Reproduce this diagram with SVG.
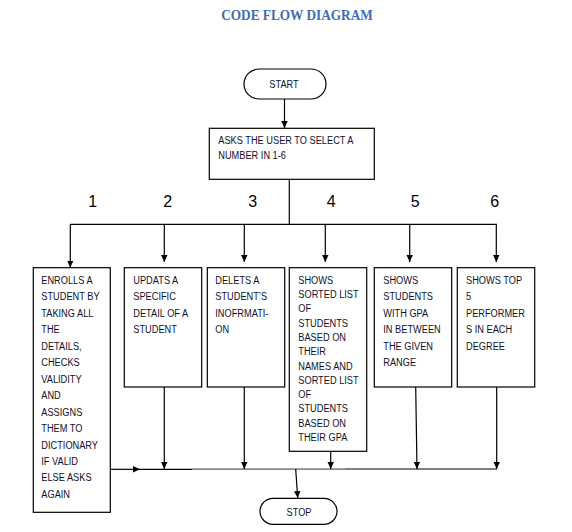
<svg xmlns="http://www.w3.org/2000/svg" width="572" height="532" viewBox="0 0 572 532">
<defs>
<marker id="ah" markerUnits="userSpaceOnUse" markerWidth="8" markerHeight="8" viewBox="0 0 8 8" refX="7" refY="4" orient="auto">
<path d="M0,0.8 L7,4 L0,7.2 Z" fill="#000"/>
</marker>
<style>
.box{fill:#fff;stroke:#000;stroke-width:1.2}
.t{font-family:"Liberation Sans",Arial,sans-serif;font-size:11px;fill:#10102a}
.num{font-family:"Liberation Sans",Arial,sans-serif;font-size:16px;fill:#000}
.ln{fill:none;stroke:#000;stroke-width:1.2}
.gr{fill:none;stroke:#8a8a8a;stroke-width:1.8}
.title{font-family:"Liberation Serif","Times New Roman",serif;font-size:15px;font-weight:bold;fill:#3f6db0}
</style>
</defs>
<rect width="572" height="532" fill="#fff"/>
<text class="title" text-anchor="middle" transform="translate(297,20) scale(0.885,1)" x="0" y="0">CODE FLOW DIAGRAM</text>

<g id="connectors">
<path class="ln" d="M284.5,99 V128" marker-end="url(#ah)"/>
<path class="ln" d="M289.3,179.3 V224.3"/>
<path class="ln" d="M70.3,224.3 H497"/>
<path class="ln" d="M70.3,224.3 V267.5" marker-end="url(#ah)"/>
<path class="ln" d="M164.3,224.3 V262" marker-end="url(#ah)"/>
<path class="ln" d="M244.3,224.3 V262" marker-end="url(#ah)"/>
<path class="ln" d="M325.3,224.3 V262" marker-end="url(#ah)"/>
<path class="ln" d="M409.7,224.3 V262" marker-end="url(#ah)"/>
<path class="ln" d="M496.3,224.3 V262" marker-end="url(#ah)"/>
<path class="ln" d="M110.3,469.3 H140" marker-end="url(#ah)"/>
<path class="ln" d="M140,469.3 H192"/>
<path class="gr" d="M192,469.2 H345"/>
<path class="ln" d="M345,469 H497"/>
<path class="ln" d="M164.3,387 V469" marker-end="url(#ah)"/>
<path class="ln" d="M244.3,387 V469" marker-end="url(#ah)"/>
<path class="ln" d="M330.7,451.3 V469" marker-end="url(#ah)"/>
<path class="ln" d="M415.7,387 L417,469" marker-end="url(#ah)"/>
<path class="ln" d="M496.7,387 V469" marker-end="url(#ah)"/>
<path class="ln" d="M295.7,469 L297.7,498" marker-end="url(#ah)"/>
</g>

<g id="labels">
<text class="num" x="92.7" y="207" text-anchor="middle">1</text>
<text class="num" x="167.7" y="207" text-anchor="middle">2</text>
<text class="num" x="252.7" y="207" text-anchor="middle">3</text>
<text class="num" x="331.3" y="207" text-anchor="middle">4</text>
<text class="num" x="415.3" y="207" text-anchor="middle">5</text>
<text class="num" x="494.7" y="207" text-anchor="middle">6</text>
</g>

<g id="start">
<rect class="box" x="244" y="69" width="82" height="30" rx="15"/>
<text class="t" text-anchor="middle" transform="translate(284,88) scale(0.84,1)">START</text>
</g>

<g id="ask">
<rect class="box" x="209.3" y="128.3" width="165" height="51"/>
<text class="t" transform="translate(218.3,0) scale(0.84,1)"><tspan x="0" y="144">ASKS THE USER TO SELECT A</tspan><tspan x="0" y="159.5">NUMBER IN 1-6</tspan></text>
</g>

<g id="opt1">
<rect class="box" x="33.3" y="267.7" width="77" height="244.6"/>
<text class="t" transform="translate(41.3,0) scale(0.84,1)"><tspan x="0" y="284">ENROLLS A</tspan><tspan x="0" y="300.5">STUDENT BY</tspan><tspan x="0" y="316.9">TAKING ALL</tspan><tspan x="0" y="333.4">THE</tspan><tspan x="0" y="349.8">DETAILS,</tspan><tspan x="0" y="366.3">CHECKS</tspan><tspan x="0" y="382.8">VALIDITY</tspan><tspan x="0" y="399.2">AND</tspan><tspan x="0" y="415.7">ASSIGNS</tspan><tspan x="0" y="432.1">THEM TO</tspan><tspan x="0" y="448.6">DICTIONARY</tspan><tspan x="0" y="465.1">IF VALID</tspan><tspan x="0" y="481.5">ELSE ASKS</tspan><tspan x="0" y="498">AGAIN</tspan></text>
</g>

<g id="opt2">
<rect class="box" x="124.3" y="267.7" width="77.4" height="119.3"/>
<text class="t" transform="translate(133.3,0) scale(0.84,1)"><tspan x="0" y="284">UPDATS A</tspan><tspan x="0" y="300.5">SPECIFIC</tspan><tspan x="0" y="316.9">DETAIL OF A</tspan><tspan x="0" y="333.4">STUDENT</tspan></text>
</g>

<g id="opt3">
<rect class="box" x="207.3" y="267.7" width="77.4" height="119.3"/>
<text class="t" transform="translate(215.3,0) scale(0.84,1)"><tspan x="0" y="284">DELETS A</tspan><tspan x="0" y="300.5">STUDENT’S</tspan><tspan x="0" y="316.9">INOFRMATI-</tspan><tspan x="0" y="333.4">ON</tspan></text>
</g>

<g id="opt4">
<rect class="box" x="289.3" y="267.7" width="77.4" height="183.6"/>
<text class="t" transform="translate(298.3,0) scale(0.84,1)"><tspan x="0" y="284">SHOWS</tspan><tspan x="0" y="298.3">SORTED LIST</tspan><tspan x="0" y="312.5">OF</tspan><tspan x="0" y="326.8">STUDENTS</tspan><tspan x="0" y="341.1">BASED ON</tspan><tspan x="0" y="355.4">THEIR</tspan><tspan x="0" y="369.6">NAMES AND</tspan><tspan x="0" y="383.9">SORTED LIST</tspan><tspan x="0" y="398.2">OF</tspan><tspan x="0" y="412.4">STUDENTS</tspan><tspan x="0" y="426.7">BASED ON</tspan><tspan x="0" y="441">THEIR GPA</tspan></text>
</g>

<g id="opt5">
<rect class="box" x="374.3" y="267.7" width="77.4" height="119.3"/>
<text class="t" transform="translate(383.3,0) scale(0.84,1)"><tspan x="0" y="284">SHOWS</tspan><tspan x="0" y="300.4">STUDENTS</tspan><tspan x="0" y="316.8">WITH GPA</tspan><tspan x="0" y="333.2">IN BETWEEN</tspan><tspan x="0" y="349.6">THE GIVEN</tspan><tspan x="0" y="366">RANGE</tspan></text>
</g>

<g id="opt6">
<rect class="box" x="457.3" y="267.7" width="77.4" height="119.3"/>
<text class="t" transform="translate(466,0) scale(0.84,1)"><tspan x="0" y="284">SHOWS TOP</tspan><tspan x="0" y="300.4">5</tspan><tspan x="0" y="316.8">PERFORMER</tspan><tspan x="0" y="333.2">S IN EACH</tspan><tspan x="0" y="349.6">DEGREE</tspan></text>
</g>

<g id="stop">
<rect class="box" x="260" y="498.3" width="77" height="26" rx="13"/>
<text class="t" text-anchor="middle" transform="translate(299,516) scale(0.84,1)">STOP</text>
</g>
</svg>
